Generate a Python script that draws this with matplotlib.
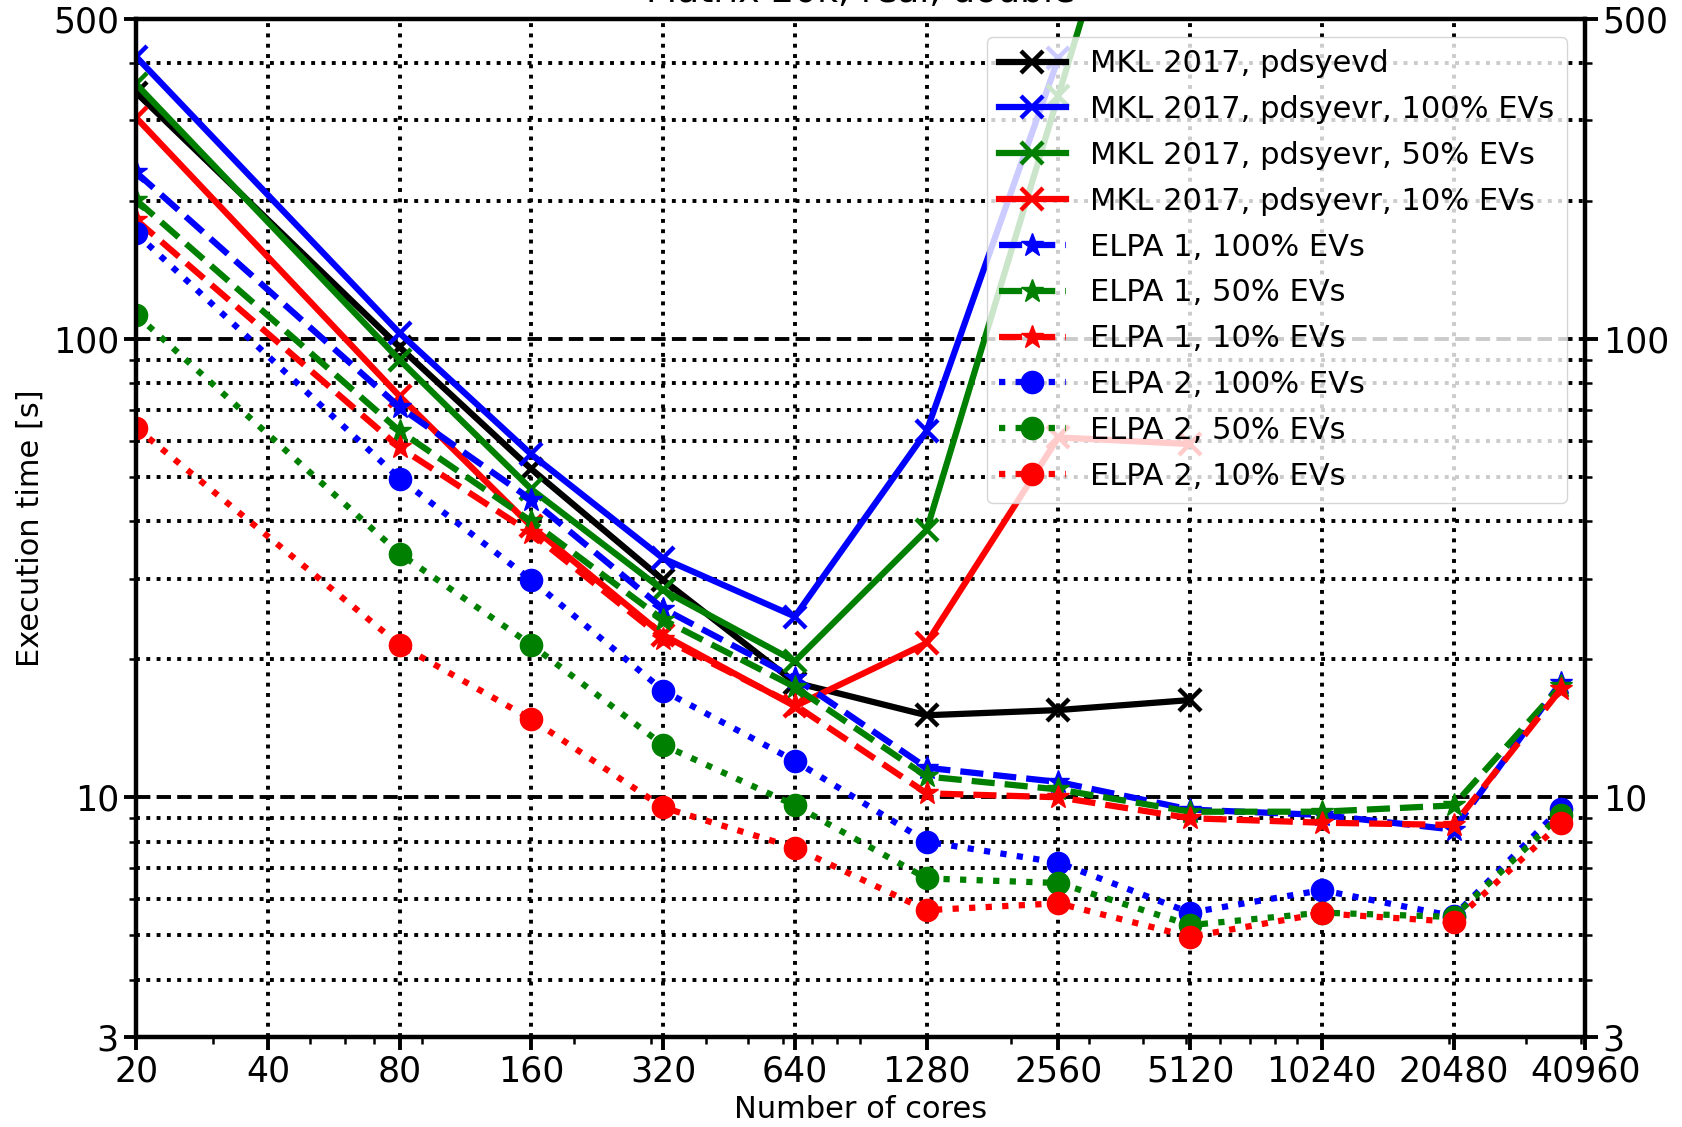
import numpy as np
import matplotlib
matplotlib.use('Agg')
import matplotlib.pyplot as plt
from matplotlib.ticker import NullFormatter, FixedLocator

# data
cores = [20, 80, 160, 320, 640, 1280, 2560, 5120, 10240, 20480, 36000]

mkl_evd = [345, 96, 52, 29.8, 17.8, 15.1, 15.5, 16.3]
mkl_evr100 = [413, 103, 56, 33.2, 24.8, 63, 410]
mkl_evr50 = [360, 90, 47, 28.3, 19.8, 38.3, 340, 3000]
mkl_evr10 = [304, 75, 39, 22.6, 15.8, 21.7, 61, 59]

elpa1_100 = [231, 71, 44.6, 25.8, 18.2, 11.6, 10.8, 9.4, 9.15, 8.5, 17.8]
elpa1_50 = [201, 63, 40, 24.4, 17.4, 11.1, 10.4, 9.3, 9.3, 9.6, 17.5]
elpa1_10 = [182, 58, 37.7, 22.2, 15.9, 10.2, 10.0, 9.0, 8.8, 8.7, 17.2]

elpa2_100 = [170, 49.6, 29.8, 17.1, 12.0, 8.0, 7.2, 5.6, 6.27, 5.5, 9.45]
elpa2_50 = [113, 34, 21.5, 13.0, 9.6, 6.65, 6.5, 5.26, 5.6, 5.48, 9.15]
elpa2_10 = [64, 21.5, 14.8, 9.5, 7.76, 5.67, 5.87, 4.96, 5.58, 5.35, 8.77]

xtick_vals = [20, 40, 80, 160, 320, 640, 1280, 2560, 5120, 10240, 20480, 40960]
ytick_vals = [3, 10, 100, 500]

fig = plt.figure(figsize=(16.82, 11.27), dpi=100)
ax = fig.add_axes([0.081, 0.080, 0.8615, 0.9033])

lw = 4.5
# MKL
ax.plot(cores[:len(mkl_evd)], mkl_evd, 'k-', marker='x', lw=lw, ms=16, mew=3.2, label='MKL 2017, pdsyevd')
ax.plot(cores[:len(mkl_evr100)], mkl_evr100, 'b-', marker='x', lw=lw, ms=16, mew=3.2, label='MKL 2017, pdsyevr, 100% EVs')
ax.plot(cores[:len(mkl_evr50)], mkl_evr50, 'g-', marker='x', lw=lw, ms=16, mew=3.2, label='MKL 2017, pdsyevr, 50% EVs')
ax.plot(cores[:len(mkl_evr10)], mkl_evr10, 'r-', marker='x', lw=lw, ms=16, mew=3.2, label='MKL 2017, pdsyevr, 10% EVs')
# ELPA 1
ax.plot(cores, elpa1_100, 'b--', marker='*', lw=lw, ms=17, label='ELPA 1, 100% EVs')
ax.plot(cores, elpa1_50, 'g--', marker='*', lw=lw, ms=17, label='ELPA 1, 50% EVs')
ax.plot(cores, elpa1_10, 'r--', marker='*', lw=lw, ms=17, label='ELPA 1, 10% EVs')
# ELPA 2
ax.plot(cores, elpa2_100, 'b:', marker='o', lw=lw, ms=16, label='ELPA 2, 100% EVs')
ax.plot(cores, elpa2_50, 'g:', marker='o', lw=lw, ms=16, label='ELPA 2, 50% EVs')
ax.plot(cores, elpa2_10, 'r:', marker='o', lw=lw, ms=16, label='ELPA 2, 10% EVs')

ax.set_xscale('log')
ax.set_yscale('log')
ax.set_xlim(20, 40960)
ax.set_ylim(3, 500)

ax.xaxis.set_major_locator(FixedLocator(xtick_vals))
ax.set_xticklabels([str(v) for v in xtick_vals])
ax.xaxis.set_minor_formatter(NullFormatter())
ax.yaxis.set_major_locator(FixedLocator(ytick_vals))
ax.set_yticklabels([str(v) for v in ytick_vals])
ax.yaxis.set_minor_formatter(NullFormatter())

ax.grid(which='major', axis='x', color='k', ls=':', lw=2.8)
ax.grid(which='major', axis='y', color='k', ls='--', lw=2.8)
ax.grid(which='minor', axis='y', color='k', ls=':', lw=2.8)

ax.tick_params(which='major', labelsize=25, length=9, width=2.8, right=True, labelright=True)
ax.tick_params(which='minor', length=5, width=1.8, right=True)
for s in ax.spines.values():
    s.set_linewidth(3.2)

ax.set_xlabel('Number of cores', fontsize=22, labelpad=5)
ax.set_ylabel('Execution time [s]', fontsize=22, labelpad=6)
ax.set_title('Matrix 20k, real, double', fontsize=26, pad=12)

ax.legend(loc='upper right', fontsize=22, handlelength=2.2, labelspacing=0.55,
          borderaxespad=0.6, framealpha=0.8)

fig.savefig('out.png', dpi=100)
